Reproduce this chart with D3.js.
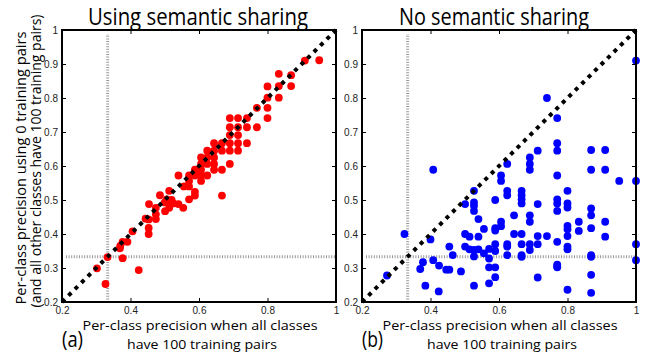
<!DOCTYPE html>
<html>
<head>
<meta charset="utf-8">
<script src="https://cdn.jsdelivr.net/npm/d3@7"></script>
<style>
  body { margin: 0; background: #fff; }
  svg { display: block; font-family: "Open Sans", "Noto Sans", sans-serif; }
  .tick text { fill: #222; }
</style>
</head>
<body>
<svg id="chart" width="645" height="355"></svg>
<script>
// per-class precision: [all classes 100 pairs, this class 0 pairs]
const semanticPts = [
  [0.327,0.253],[0.302,0.299],[0.333,0.332],[0.377,0.329],[0.424,0.294],
  [0.369,0.358],[0.37,0.365],[0.377,0.377],[0.391,0.377],[0.406,0.408],
  [0.444,0.445],[0.453,0.4],[0.453,0.418],[0.453,0.443],[0.454,0.488],
  [0.474,0.477],[0.474,0.458],[0.474,0.444],[0.486,0.514],[0.5,0.493],
  [0.501,0.467],[0.506,0.502],[0.513,0.527],[0.515,0.494],[0.525,0.49],
  [0.52,0.5],[0.54,0.488],[0.513,0.477],[0.554,0.477],[0.54,0.572],
  [0.556,0.54],[0.571,0.54],[0.571,0.556],[0.571,0.572],[0.571,0.502],
  [0.588,0.524],[0.588,0.513],[0.588,0.572],[0.588,0.589],[0.606,0.556],
  [0.606,0.572],[0.606,0.589],[0.606,0.606],[0.606,0.625],[0.624,0.572],
  [0.624,0.606],[0.624,0.625],[0.624,0.645],[0.644,0.589],[0.644,0.606],
  [0.644,0.625],[0.644,0.645],[0.644,0.667],[0.667,0.513],[0.667,0.589],
  [0.667,0.645],[0.667,0.667],[0.69,0.606],[0.69,0.645],[0.69,0.667],
  [0.69,0.691],[0.69,0.714],[0.69,0.741],[0.714,0.645],[0.714,0.667],
  [0.714,0.691],[0.714,0.714],[0.714,0.741],[0.74,0.667],[0.74,0.714],
  [0.74,0.741],[0.769,0.714],[0.769,0.771],[0.8,0.741],[0.8,0.771],
  [0.8,0.801],[0.8,0.834],[0.833,0.801],[0.833,0.835],[0.833,0.871],
  [0.869,0.835],[0.869,0.867],[0.909,0.91],[0.951,0.911]
];

const noSharingPts = [
  [1.0,0.91],[1.0,0.556],[1.0,0.37],[1.0,0.323],[0.951,0.556],
  [0.91,0.647],[0.91,0.589],[0.91,0.436],[0.91,0.392],
  [0.869,0.647],[0.869,0.589],[0.869,0.475],[0.869,0.455],[0.869,0.417],
  [0.869,0.338],[0.869,0.333],[0.869,0.28],[0.869,0.227],
  [0.833,0.436],[0.833,0.409],
  [0.8,0.527],[0.8,0.49],[0.8,0.478],[0.8,0.424],[0.8,0.414],[0.8,0.394],
  [0.8,0.363],[0.8,0.355],[0.8,0.236],
  [0.77,0.741],[0.77,0.667],[0.77,0.645],[0.77,0.572],[0.77,0.502],[0.77,0.49],
  [0.77,0.468],[0.77,0.377],[0.77,0.31],[0.77,0.305],[0.77,0.302],
  [0.74,0.8],[0.74,0.394],
  [0.713,0.645],[0.713,0.488],[0.713,0.394],[0.713,0.37],[0.713,0.272],
  [0.69,0.625],[0.69,0.606],[0.69,0.589],[0.69,0.455],[0.69,0.436],[0.69,0.37],[0.69,0.353],
  [0.666,0.527],[0.666,0.514],[0.666,0.502],[0.666,0.49],[0.666,0.4],[0.666,0.37],
  [0.666,0.338],[0.666,0.333],
  [0.644,0.455],[0.644,0.4],
  [0.624,0.606],[0.624,0.527],[0.624,0.514],[0.624,0.37],[0.624,0.363],[0.624,0.338],
  [0.606,0.572],[0.606,0.556],[0.606,0.436],[0.606,0.423],
  [0.589,0.5],[0.589,0.417],[0.589,0.41],[0.589,0.37],[0.589,0.35],[0.589,0.302],[0.589,0.273],
  [0.571,0.356],[0.571,0.328],[0.571,0.302],[0.571,0.255],
  [0.556,0.415],[0.556,0.343],
  [0.54,0.444],[0.54,0.392],[0.54,0.355],
  [0.527,0.527],[0.527,0.493],[0.527,0.483],[0.527,0.468],[0.527,0.353],[0.527,0.334],[0.527,0.248],
  [0.514,0.392],[0.514,0.355],
  [0.501,0.488],[0.501,0.4],[0.501,0.363],
  [0.489,0.29],[0.465,0.338],
  [0.455,0.363],[0.455,0.295],[0.446,0.295],
  [0.425,0.307],[0.424,0.231],
  [0.408,0.589],[0.408,0.323],[0.4,0.384],
  [0.385,0.248],[0.378,0.317],[0.37,0.297],
  [0.324,0.4],[0.273,0.278]
];

const xTicks = [0.2, 0.4, 0.6, 0.8, 1];
const yTicks = [0.2, 0.3, 0.4, 0.5, 0.6, 0.7, 0.8, 0.9, 1];
const chanceLevel = 1 / 3;

const panels = [
  { title: 'Using semantic sharing', titleW: 220, titleX: 198, tag: '(a)', pts: semanticPts, color: '#ff0000', left: 62 },
  { title: 'No semantic sharing', titleW: 190, titleX: 494, tag: '(b)', pts: noSharingPts, color: '#0000ff', left: 362 }
];

const svg = d3.select('#chart');
const plotTop = 30, plotW = 274, plotH = 272;
const fmt = d => d === 1 ? '1' : d3.format('.1f')(d);

panels.forEach(p => {
  const x = d3.scaleLinear().domain([0.2, 1]).range([p.left, p.left + plotW]);
  const y = d3.scaleLinear().domain([0.2, 1]).range([plotTop + plotH, plotTop]);
  const g = svg.append('g');

  // chance lines
  g.append('line')
    .attr('x1', x(chanceLevel)).attr('x2', x(chanceLevel))
    .attr('y1', y(0.2)).attr('y2', y(1) + 4)
    .attr('stroke', '#999').attr('stroke-width', 3).attr('stroke-dasharray', '1,1.6');
  g.append('line')
    .attr('x1', x(0.2) + 4).attr('x2', x(1))
    .attr('y1', y(chanceLevel)).attr('y2', y(chanceLevel))
    .attr('stroke', '#999').attr('stroke-width', 3).attr('stroke-dasharray', '1,1.6');

  // points
  g.selectAll('circle').data(p.pts).join('circle')
    .attr('cx', d => x(d[0])).attr('cy', d => y(d[1]))
    .attr('r', 3.9).attr('fill', p.color);

  // diagonal y = x
  g.append('line')
    .attr('x1', x(0.2)).attr('y1', y(0.2)).attr('x2', x(1)).attr('y2', y(1))
    .attr('stroke', '#000').attr('stroke-width', 4).attr('stroke-dasharray', '4,5.1');

  // axes with inward ticks
  const ax = [
    g.append('g').attr('transform', `translate(0,${y(0.2)})`)
      .call(d3.axisBottom(x).tickValues(xTicks).tickSize(-4).tickPadding(5).tickFormat(fmt)),
    g.append('g').attr('transform', `translate(0,${y(1)})`)
      .call(d3.axisTop(x).tickValues(xTicks).tickSize(-4).tickFormat('')),
    g.append('g').attr('transform', `translate(${x(0.2)},0)`)
      .call(d3.axisLeft(y).tickValues(yTicks).tickSize(-4).tickPadding(4).tickFormat(fmt)),
    g.append('g').attr('transform', `translate(${x(1)},0)`)
      .call(d3.axisRight(y).tickValues(yTicks).tickSize(-4).tickFormat(''))
  ];
  ax.forEach(a => {
    a.select('.domain').remove();
    a.selectAll('.tick line').attr('stroke', '#000');
    a.selectAll('.tick text').attr('font-size', 10);
  });

  g.append('rect')
    .attr('x', x(0.2)).attr('y', y(1)).attr('width', plotW).attr('height', plotH)
    .attr('fill', 'none').attr('stroke', '#000').attr('stroke-width', 2);

  const cx = p.left + 138;
  g.append('text').attr('x', p.titleX).attr('y', 25).attr('text-anchor', 'middle')
    .attr('font-size', 24).attr('textLength', p.titleW).attr('lengthAdjust', 'spacingAndGlyphs')
    .text(p.title);
  g.append('text').attr('x', cx).attr('y', 330).attr('text-anchor', 'middle')
    .attr('font-size', 13.5).attr('textLength', 235).attr('lengthAdjust', 'spacingAndGlyphs')
    .text('Per-class precision when all classes');
  g.append('text').attr('x', cx + 2).attr('y', 349).attr('text-anchor', 'middle')
    .attr('font-size', 13.5).attr('textLength', 150).attr('lengthAdjust', 'spacingAndGlyphs')
    .text('have 100 training pairs');
  g.append('text').attr('x', p.left).attr('y', 347)
    .attr('font-size', 21).attr('textLength', 21).attr('lengthAdjust', 'spacingAndGlyphs')
    .text(p.tag);
});

// y axis title
const yl = svg.append('g').attr('transform', 'rotate(-90)');
yl.append('text').attr('x', -168).attr('y', 26).attr('text-anchor', 'middle')
  .attr('font-size', 14.5).attr('textLength', 273).attr('lengthAdjust', 'spacingAndGlyphs')
  .text('Per-class precision using 0 training pairs');
yl.append('text').attr('x', -161).attr('y', 41).attr('text-anchor', 'middle')
  .attr('font-size', 14.5).attr('textLength', 293).attr('lengthAdjust', 'spacingAndGlyphs')
  .text('(and all other classes have 100 training pairs)');
</script>
</body>
</html>
